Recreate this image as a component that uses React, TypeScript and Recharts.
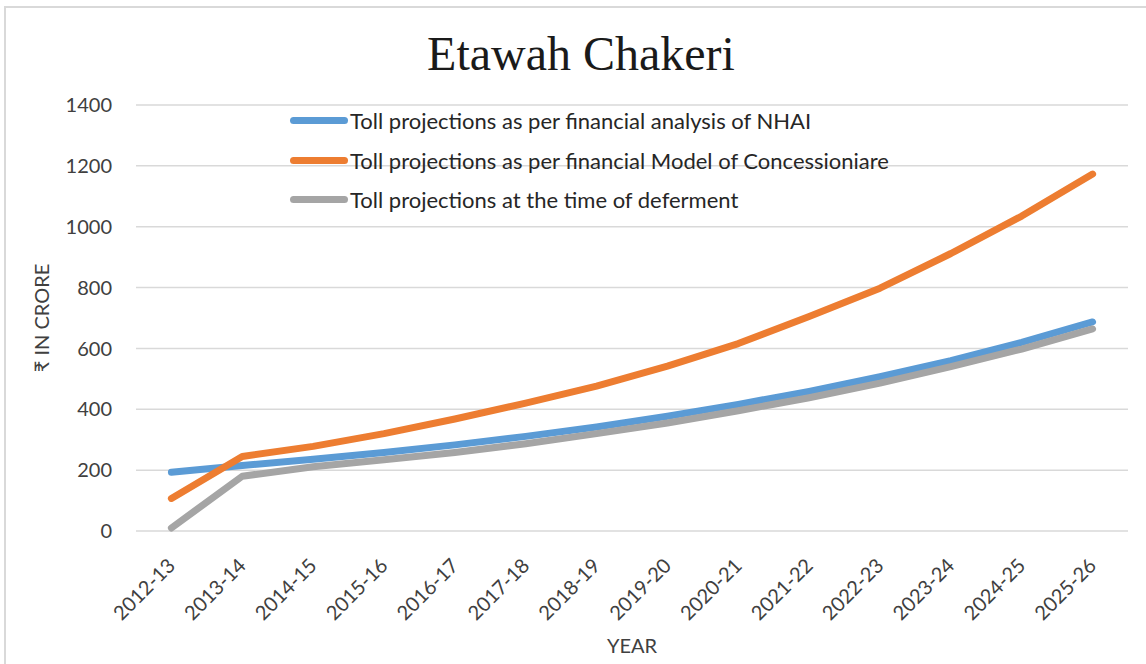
import { LineChart, Line, XAxis, YAxis, CartesianGrid } from "recharts";

const years = [
  "2012-13", "2013-14", "2014-15", "2015-16", "2016-17", "2017-18", "2018-19",
  "2019-20", "2020-21", "2021-22", "2022-23", "2023-24", "2024-25", "2025-26",
];
const nhai = [193, 215, 236, 258, 283, 311, 342, 377, 416, 459, 507, 560, 620, 687];
const concessionaire = [107, 245, 278, 320, 368, 420, 476, 542, 616, 705, 798, 912, 1035, 1173];
const deferment = [10, 180, 211, 234, 258, 287, 320, 355, 395, 438, 486, 540, 598, 664];
const yTicks = [0, 200, 400, 600, 800, 1000, 1200, 1400];

const series = [
  { key: "nhai", name: "Toll projections as per financial analysis of NHAI", color: "#5b9bd5" },
  { key: "concessionaire", name: "Toll projections as per financial Model of Concessioniare", color: "#ed7d31" },
  { key: "deferment", name: "Toll projections at the time of deferment", color: "#a5a5a5" },
];

const data = years.map((year, i) => ({
  year,
  nhai: nhai[i],
  concessionaire: concessionaire[i],
  deferment: deferment[i],
}));

const font = "Lato, 'Noto Sans', sans-serif";
const textColor = "#404040";

// rotated year labels, end of text sits just under the point
const YearTick = ({ x, y, payload }: any) => {
  const ax = x;
  const ay = y + 31;
  return (
    <text
      x={ax}
      y={ay}
      transform={`rotate(-45, ${ax}, ${ay})`}
      textAnchor="end"
      dy="0.35em"
      fontSize={20}
      fontFamily={font}
      fill={textColor}
    >
      {payload.value}
    </text>
  );
};

export default function App() {
  return (
    <div style={{ position: "absolute", left: 0, top: 0, width: 1146, height: 664, overflow: "hidden", background: "#fff" }}>
      <div
        style={{
          position: "absolute",
          left: 4,
          top: 6,
          width: 1160,
          height: 700,
          border: "2px solid #d9d9d9",
        }}
      />
      <div
        style={{
          position: "absolute",
          left: 0,
          width: 1162,
          top: 24,
          textAlign: "center",
          fontFamily: "'Liberation Serif', 'Times New Roman', serif",
          fontSize: 48,
          color: "#1a1a1a",
          lineHeight: "60px",
        }}
      >
        Etawah Chakeri
      </div>
      <LineChart
        width={1146}
        height={664}
        data={data}
        margin={{ top: 105, right: 18, bottom: 3, left: 4 }}
        style={{ position: "absolute", left: 0, top: 0 }}
      >
        <CartesianGrid vertical={false} stroke="#d9d9d9" strokeWidth={1.5} />
        <XAxis
          dataKey="year"
          axisLine={false}
          tickLine={false}
          tickSize={0}
          tickMargin={0}
          interval={0}
          height={130}
          padding={{ left: 35.4, right: 35.4 }}
          tick={<YearTick />}
          label={{
            value: "YEAR",
            position: "insideBottom",
            offset: 8,
            style: { fontFamily: font, fontSize: 20, fill: textColor },
          }}
        />
        <YAxis
          domain={[0, 1400]}
          ticks={yTicks}
          axisLine={false}
          tickLine={false}
          tickSize={0}
          tickMargin={24}
          width={132}
          tick={{ fontFamily: font, fontSize: 20, fill: textColor }}
          label={{
            value: "₹ IN CRORE",
            angle: -90,
            position: "insideLeft",
            offset: 38,
            style: { fontFamily: font, fontSize: 20, fill: textColor, textAnchor: "middle" },
          }}
        />
        {series.map((s) => (
          <Line
            key={s.key}
            type="linear"
            dataKey={s.key}
            name={s.name}
            stroke={s.color}
            strokeWidth={7}
            strokeLinecap="round"
            strokeLinejoin="round"
            dot={false}
            activeDot={false}
            isAnimationActive={false}
          />
        ))}
      </LineChart>
      <div style={{ position: "absolute", left: 290, top: 101 }}>
        {series.map((s) => (
          <div key={s.key} style={{ display: "flex", alignItems: "center", height: 39.5 }}>
            <div style={{ width: 58, height: 7, borderRadius: 4, background: s.color, marginRight: 2 }} />
            <span style={{ fontFamily: font, fontSize: 22, color: "#262626", whiteSpace: "nowrap" }}>{s.name}</span>
          </div>
        ))}
      </div>
    </div>
  );
}
